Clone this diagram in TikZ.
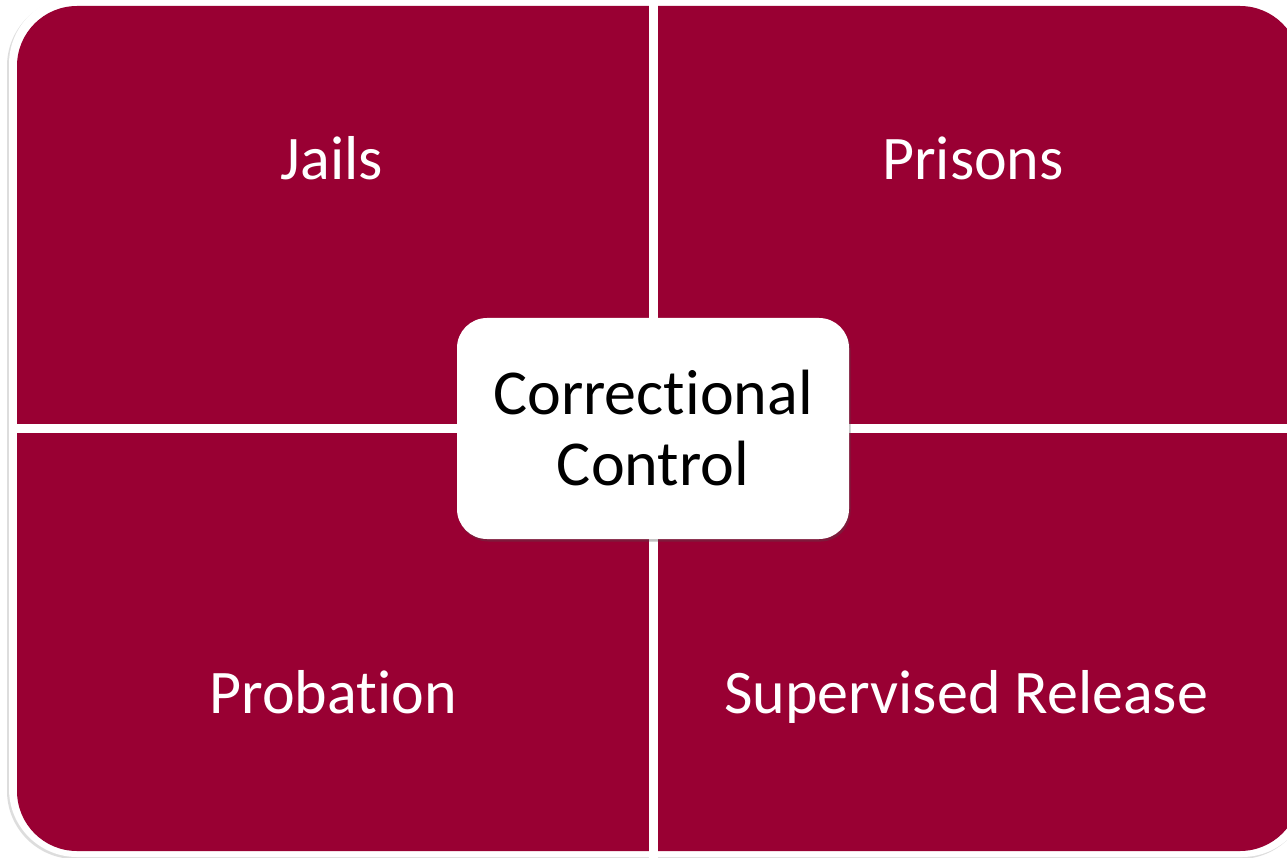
\documentclass[tikz,border=0pt]{standalone}
\usepackage{fontspec}
\setmainfont{Carlito}[Ligatures=NoCommon]
\usepackage{xcolor}
\usetikzlibrary{shadows,positioning,backgrounds}
\definecolor{corrred}{RGB}{153,0,51}
\definecolor{framegray}{RGB}{120,120,120}

\tikzset{
  quadlabel/.style={text=white, anchor=base, font=\fontsize{62}{70}\selectfont},
  centerbox/.style={rectangle, fill=white, rounded corners=30pt, minimum width=392pt, minimum height=221pt,
    align=center, font=\fontsize{64}{71}\selectfont,
    drop shadow={shadow xshift=1.5pt, shadow yshift=-2.5pt, opacity=0.35, fill=black!70}},
  divider/.style={white, line width=9pt}
}

\begin{document}
\begin{tikzpicture}[x=1pt,y=-1pt]
  \useasboundingbox (0,0) rectangle (1287,858);
  % outer frame
  \fill[white, rounded corners=68pt, drop shadow={shadow xshift=-2pt, shadow yshift=-2pt, opacity=0.25, fill=framegray}]
    (9,-4) rectangle (1310,857);
  \fill[corrred, rounded corners=60pt] (17,6) rectangle (1300,851);
  % dividers
  \coordinate (vtop) at (653,0);
  \coordinate (vbot) at (653,858);
  \coordinate (hleft) at (17,428);
  \coordinate (hright) at (1300,428);
  \draw[divider] (vtop) -- (vbot);
  \draw[divider] (hleft) -- (hright);
  % labels
  \node[quadlabel] (jails) at (332,180) {Jails};
  \node[quadlabel] (prisons) at (973,180) {Prisons};
  \node[quadlabel] (probation) at (333,713) {Probation};
  \node[quadlabel] (release) at (966,713) {Supervised Release};
  \node[centerbox] (control) at (653,428.5) {Correctional\\Control};
\end{tikzpicture}
\end{document}
